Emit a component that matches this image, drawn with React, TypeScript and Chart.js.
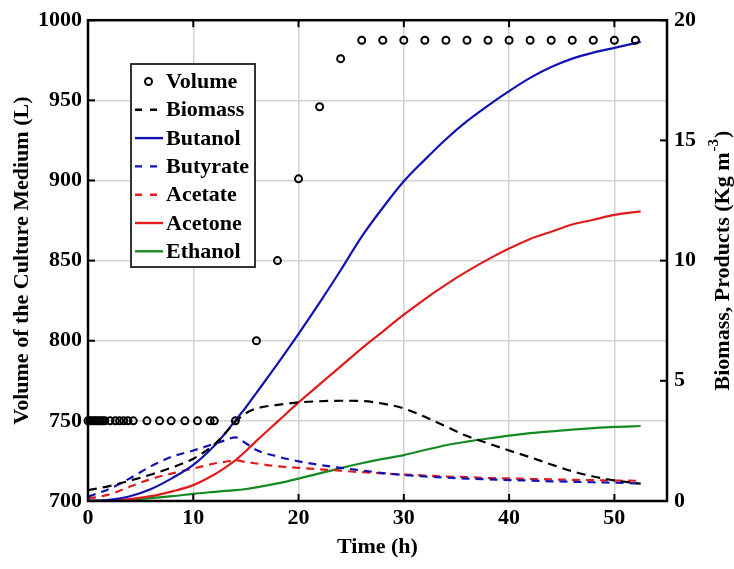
import React, { useEffect, useRef } from "react";
import { Chart, registerables } from "chart.js";

Chart.register(...registerables);

// Culture volume (left axis, L)
const volumeTime = [
  0, 0.2, 0.4, 0.6, 0.8, 1.0, 1.2, 1.4, 1.6, 2.1, 2.6, 3.0, 3.4, 3.8, 4.3,
  5.6, 6.8, 7.9, 9.2, 10.4, 11.6, 12.0, 14, 16, 18, 20, 22, 24, 26, 28, 30,
  32, 34, 36, 38, 40, 42, 44, 46, 48, 50, 52,
];
const volume = [
  750, 750, 750, 750, 750, 750, 750, 750, 750, 750, 750, 750, 750, 750, 750,
  750, 750, 750, 750, 750, 750, 750, 750, 800, 850, 901, 946, 976, 987.5,
  987.5, 987.5, 987.5, 987.5, 987.5, 987.5, 987.5, 987.5, 987.5, 987.5,
  987.5, 987.5, 987.5,
];

// Concentrations (right axis, Kg m^-3)
const time = [
  0, 2, 4, 6, 8, 10, 12, 13, 14, 15, 16, 18, 20, 22, 24, 26, 28, 30, 32, 34,
  36, 38, 40, 42, 44, 46, 48, 50, 52.5,
];
const biomass = [
  0.45, 0.62, 0.85, 1.1, 1.4, 1.76, 2.35, 2.8, 3.3, 3.65, 3.85, 4.0, 4.1,
  4.15, 4.17, 4.16, 4.05, 3.85, 3.5, 3.1, 2.7, 2.4, 2.1, 1.82, 1.52, 1.24,
  1.02, 0.86, 0.72,
];
const butanol = [
  0, 0.05, 0.2, 0.5, 0.95, 1.5, 2.3, 2.8, 3.35, 3.9, 4.5, 5.7, 6.95, 8.25,
  9.6, 11.0, 12.2, 13.3, 14.2, 15.05, 15.8, 16.45, 17.05, 17.6, 18.05, 18.4,
  18.65, 18.85, 19.1,
];
const butyrate = [
  0.18, 0.5, 0.95, 1.45, 1.85, 2.1, 2.38, 2.52, 2.65, 2.4, 2.12, 1.85, 1.65,
  1.5, 1.38, 1.27, 1.16, 1.08, 1.02, 0.97, 0.93, 0.9, 0.87, 0.85, 0.82, 0.8,
  0.78, 0.76, 0.73,
];
const acetate = [
  0.1, 0.27, 0.6, 0.92, 1.15, 1.35, 1.56, 1.63, 1.69, 1.62, 1.56, 1.44, 1.38,
  1.32, 1.26, 1.2, 1.15, 1.1, 1.06, 1.02, 0.99, 0.96, 0.94, 0.92, 0.9, 0.88,
  0.87, 0.85, 0.84,
];
const acetone = [
  0, 0.02, 0.08, 0.2, 0.4, 0.66, 1.1, 1.38, 1.69, 2.08, 2.5, 3.3, 4.1, 4.85,
  5.6, 6.35, 7.05, 7.75, 8.4, 9.0, 9.55, 10.05, 10.5, 10.9, 11.2, 11.5, 11.7,
  11.9, 12.05,
];
const ethanol = [
  0, 0.02, 0.06, 0.12, 0.2, 0.3, 0.38, 0.42, 0.45, 0.5, 0.57, 0.73, 0.93,
  1.15, 1.37, 1.57, 1.75, 1.91, 2.12, 2.32, 2.47, 2.6, 2.72, 2.82, 2.9, 2.97,
  3.03, 3.08, 3.12,
];

const FONT = "'Liberation Serif', 'Times New Roman', serif";
const BLUE = "#1212b2";
const RED = "#e01c1c";
const GREEN = "#168a22";

const toPoints = (xs: number[], ys: number[]) =>
  xs.map((x, i) => ({ x, y: ys[i] }));

type LegendEntry = { label: string; color: string; dash: number[]; marker?: boolean };
const legendEntries: LegendEntry[] = [
  { label: "Volume", color: "#000", dash: [], marker: true },
  { label: "Biomass", color: "#000", dash: [7, 8] },
  { label: "Butanol", color: BLUE, dash: [] },
  { label: "Butyrate", color: BLUE, dash: [7, 8] },
  { label: "Acetate", color: RED, dash: [7, 8] },
  { label: "Acetone", color: RED, dash: [] },
  { label: "Ethanol", color: GREEN, dash: [] },
];

// Frame, inward tick marks, boxed legend and the right-hand axis title
const decorPlugin = {
  id: "decor",
  afterDatasetsDraw(chart: any) {
    const { ctx, chartArea, scales } = chart;
    const { left, right, top, bottom } = chartArea;
    const tl = 7;
    ctx.save();
    ctx.strokeStyle = "#000";
    ctx.lineWidth = 2;
    ctx.setLineDash([]);
    const seg = (x1: number, y1: number, x2: number, y2: number) => {
      ctx.beginPath();
      ctx.moveTo(x1, y1);
      ctx.lineTo(x2, y2);
      ctx.stroke();
    };
    scales.x.ticks.forEach((t: any) => {
      const px = scales.x.getPixelForValue(t.value);
      seg(px, bottom, px, bottom - tl);
      seg(px, top, px, top + tl);
    });
    scales.y.ticks.forEach((t: any) => {
      const py = scales.y.getPixelForValue(t.value);
      seg(left, py, left + tl, py);
    });
    scales.y1.ticks.forEach((t: any) => {
      const py = scales.y1.getPixelForValue(t.value);
      seg(right, py, right - tl, py);
    });
    ctx.lineWidth = 2.5;
    ctx.strokeRect(left, top, right - left, bottom - top);

    // legend
    const bx = 131, by = 64, bw = 124, bh = 203;
    ctx.fillStyle = "#fff";
    ctx.fillRect(bx, by, bw, bh);
    ctx.strokeStyle = "#333";
    ctx.lineWidth = 2;
    ctx.strokeRect(bx, by, bw, bh);
    ctx.font = `bold 22px ${FONT}`;
    ctx.textBaseline = "middle";
    ctx.textAlign = "left";
    legendEntries.forEach((e, i) => {
      const yy = 81.5 + i * 28.3;
      ctx.strokeStyle = e.color;
      if (e.marker) {
        ctx.lineWidth = 2;
        ctx.setLineDash([]);
        ctx.beginPath();
        ctx.arc(148.5, yy, 3.5, 0, Math.PI * 2);
        ctx.stroke();
      } else {
        ctx.lineWidth = 2.4;
        ctx.setLineDash(e.dash);
        seg(135, yy, 163, yy);
        ctx.setLineDash([]);
      }
      ctx.fillStyle = "#000";
      ctx.fillText(e.label, 166, yy + 1);
    });

    // right axis title with superscript
    const main = "Biomass, Products (Kg m";
    const sup = "-3";
    const close = ")";
    ctx.translate(723, (top + bottom) / 2);
    ctx.rotate(-Math.PI / 2);
    ctx.font = `bold 22px ${FONT}`;
    const w1 = ctx.measureText(main).width;
    const w3 = ctx.measureText(close).width;
    ctx.font = `bold 15px ${FONT}`;
    const w2 = ctx.measureText(sup).width;
    const x0 = -(w1 + w2 + w3 + 2) / 2;
    ctx.fillStyle = "#000";
    ctx.font = `bold 22px ${FONT}`;
    ctx.fillText(main, x0, 0);
    ctx.font = `bold 15px ${FONT}`;
    ctx.fillText(sup, x0 + w1 + 1, -9);
    ctx.font = `bold 22px ${FONT}`;
    ctx.fillText(close, x0 + w1 + w2 + 2, 0);
    ctx.restore();
  },
};

export default function App() {
  const canvasRef = useRef<HTMLCanvasElement>(null);

  useEffect(() => {
    const canvas = canvasRef.current;
    if (!canvas) return;

    const line = (data: number[], color: string, dash: number[]) => ({
      data: toPoints(time, data),
      yAxisID: "y1",
      borderColor: color,
      borderWidth: 2.2,
      borderDash: dash,
      pointRadius: 0,
      fill: false,
      cubicInterpolationMode: "monotone" as const,
    });

    const tickFont = { family: FONT, size: 22, weight: "bold" as const };
    const gridStyle = {
      color: "#d2d2d2",
      lineWidth: 1.5,
      drawTicks: false,
    };
    const plain = (v: any) => String(v);

    const chart = new Chart(canvas, {
      type: "line",
      data: {
        datasets: [
          {
            label: "Volume",
            data: toPoints(volumeTime, volume),
            yAxisID: "y",
            showLine: false,
            pointStyle: "circle",
            pointRadius: 3.5,
            pointBorderWidth: 2,
            pointBorderColor: "#000",
            pointBackgroundColor: "rgba(0,0,0,0)",
            borderColor: "#000",
            clip: false,
          } as any,
          { label: "Biomass", ...line(biomass, "#000", [9, 6]) },
          { label: "Butanol", ...line(butanol, BLUE, []) },
          { label: "Butyrate", ...line(butyrate, BLUE, [8, 6]) },
          { label: "Acetate", ...line(acetate, RED, [8, 6]) },
          { label: "Acetone", ...line(acetone, RED, []) },
          { label: "Ethanol", ...line(ethanol, GREEN, []) },
        ],
      },
      options: {
        responsive: false,
        animation: false,
        layout: { padding: { top: 17, left: 0, right: 0, bottom: 0 } },
        plugins: {
          legend: { display: false },
          tooltip: { enabled: false },
        },
        scales: {
          x: {
            type: "linear",
            min: 0,
            max: 55,
            border: { display: false },
            grid: gridStyle,
            ticks: {
              stepSize: 10,
              includeBounds: false,
              color: "#000",
              font: tickFont,
              padding: 4,
              maxRotation: 0,
              callback: plain,
            },
            title: {
              display: true,
              text: "Time (h)",
              color: "#000",
              font: tickFont,
              padding: { top: 0, bottom: 8 },
            },
            afterFit: (s: any) => {
              s.height = 68;
            },
          },
          y: {
            type: "linear",
            position: "left",
            min: 700,
            max: 1000,
            border: { display: false },
            grid: gridStyle,
            ticks: {
              stepSize: 50,
              color: "#000",
              font: tickFont,
              padding: 6,
              callback: plain,
            },
            title: {
              display: true,
              text: "Volume of the Culture Medium (L)",
              color: "#000",
              font: tickFont,
              padding: { top: 9, bottom: 0 },
            },
            afterFit: (s: any) => {
              s.width = 88;
            },
          },
          y1: {
            type: "linear",
            position: "right",
            min: 0,
            max: 20,
            border: { display: false },
            grid: { display: false, drawTicks: false },
            ticks: {
              stepSize: 5,
              color: "#000",
              font: tickFont,
              padding: 7,
              callback: plain,
            },
            afterFit: (s: any) => {
              s.width = 67;
            },
          },
        },
      },
      plugins: [decorPlugin],
    });

    return () => chart.destroy();
  }, []);

  return (
    <div
      style={{
        position: "fixed",
        left: 0,
        top: 0,
        width: 734,
        height: 569,
        background: "#fff",
      }}
    >
      <canvas
        ref={canvasRef}
        width={734}
        height={569}
        style={{ display: "block" }}
      />
    </div>
  );
}
